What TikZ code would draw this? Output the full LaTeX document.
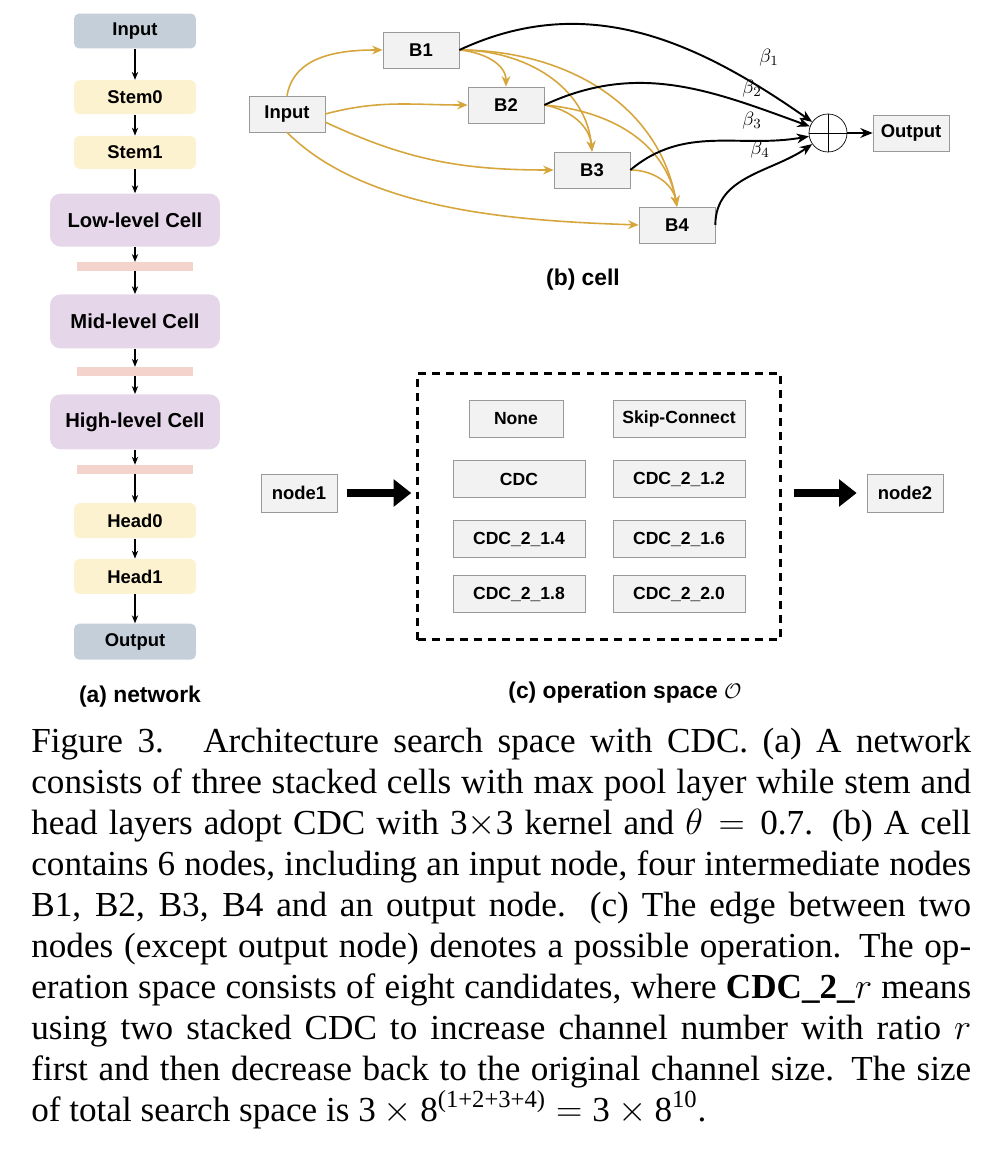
\documentclass[tikz,border=0pt]{standalone}
\usepackage{amsmath}
\usepackage{fontspec}
\setmainfont{Liberation Serif}
\setsansfont{Liberation Sans}
\usetikzlibrary{arrows.meta, positioning, fit}
\definecolor{ioblue}{RGB}{196, 207, 217}
\definecolor{stemyellow}{RGB}{253, 242, 208}
\definecolor{celllilac}{RGB}{229, 215, 233}
\definecolor{poolpink}{RGB}{243, 211, 204}
\definecolor{boxgray}{RGB}{242, 242, 242}
\definecolor{edgegold}{RGB}{214, 165, 60}

\begin{document}
\begin{tikzpicture}[
        x=0.02cm, y=0.02cm,
        node distance=0.5cm,
        % Styles
        netlayer/.style={
            rectangle,
            rounded corners=3pt,
            minimum width=2.44cm,
            minimum height=0.7cm,
            inner sep=0pt,
            font=\sffamily\bfseries\fontsize{10.5}{12}\selectfont
        },
        iolayer/.style={netlayer, fill=ioblue},
        stemlayer/.style={netlayer, fill=stemyellow},
        celllayer/.style={netlayer, fill=celllilac, minimum width=3.4cm, minimum height=1.08cm, rounded corners=6pt, font=\sffamily\bfseries\fontsize{11.5}{13}\selectfont},
        pool/.style={rectangle, fill=poolpink, minimum width=2.34cm, minimum height=0.17cm, inner sep=0pt},
        block/.style={
            rectangle,
            draw=black!40,
            fill=boxgray,
            minimum width=1.52cm,
            minimum height=0.72cm,
            inner sep=0pt,
            font=\sffamily\bfseries\fontsize{10.5}{12}\selectfont
        },
        opbox/.style={block, minimum width=2.64cm, minimum height=0.74cm, font=\sffamily\bfseries\fontsize{10}{12}\selectfont},
        sumop/.style={circle, draw, thin, minimum size=0.76cm, inner sep=0pt},
        opframe/.style={draw, line width=1.6pt, dash pattern=on 4.5pt off 3.5pt, inner xsep=0.7cm, inner ysep=0.54cm},
        subcap/.style={font=\sffamily\bfseries\fontsize{13}{15}\selectfont},
        betalab/.style={font=\fontsize{11}{12}\selectfont, inner sep=1pt},
        thinconn/.style={-{Stealth[length=4.5pt, width=3.6pt]}, line width=0.6pt},
        goldconn/.style={-{Stealth[length=6pt, width=5pt]}, draw=edgegold, line width=0.9pt},
        blackconn/.style={-{Stealth[length=7pt, width=5.6pt]}, line width=1.1pt},
        bigconn/.style={-{Triangle[length=10pt, width=15pt]}, line width=4.5pt}
    ]

    \useasboundingbox (0,0) rectangle (998,-1166);

    % ==============================
    % (a) NETWORK
    % ==============================
    \node[iolayer] (input) at (135,-31) {Input};
    \node[stemlayer, below=0.62cm of input, minimum height=0.68cm] (stem0) {Stem0};
    \node[stemlayer, below=0.42cm of stem0, minimum height=0.66cm] (stem1) {Stem1};
    \node[celllayer, below=0.48cm of stem1, minimum height=1.06cm] (lowcell) {Low-level Cell};
    \node[pool, below=0.3cm of lowcell] (pool1) {};
    \node[celllayer, below=0.46cm of pool1] (midcell) {Mid-level Cell};
    \node[pool, below=0.36cm of midcell] (pool2) {};
    \node[celllayer, below=0.36cm of pool2, minimum height=1.1cm] (highcell) {High-level Cell};
    \node[pool, below=0.3cm of highcell] (pool3) {};
    \node[stemlayer, below=0.58cm of pool3] (head0) {Head0};
    \node[stemlayer, below=0.4cm of head0] (head1) {Head1};
    \node[iolayer, below=0.58cm of head1, minimum height=0.72cm] (output) {Output};

    \draw[thinconn] (input) -- (stem0);
    \draw[thinconn] (stem0) -- (stem1);
    \draw[thinconn] (stem1) -- (lowcell);
    \draw[thinconn] (lowcell) -- (pool1);
    \draw[thinconn] (pool1) -- (midcell);
    \draw[thinconn] (midcell) -- (pool2);
    \draw[thinconn] (pool2) -- (highcell);
    \draw[thinconn] (highcell) -- (pool3);
    \draw[thinconn] (pool3) -- (head0);
    \draw[thinconn] (head0) -- (head1);
    \draw[thinconn] (head1) -- (output);

    \node[subcap] (capa) at (140,-697) {(a) network};

    % ==============================
    % (b) CELL
    % ==============================
    \node[block] (cin) at (287,-114) {Input};
    \node[block] (b1) at (421,-50) {B1};
    \node[block] (b2) at (506,-105) {B2};
    \node[block] (b3) at (592,-170) {B3};
    \node[block] (b4) at (677,-225) {B4};
    \node[sumop] (sum) at (828,-133) {};
    \node[block] (cout) at (911,-133) {Output};
    \draw (sum.north) -- (sum.south);
    \draw (sum.west) -- (sum.east);

    \draw[goldconn] (cin.north) to[out=80, in=180] (b1.west);
    \draw[goldconn] (cin.east) to[out=15, in=180] (b2.west);
    \draw[goldconn] (cin.-12) to[out=-25, in=180] (b3.west);
    \draw[goldconn] (cin.south) to[out=-45, in=178, looseness=0.8] (b4.west);
    \draw[goldconn] (b1.east) to[out=-5, in=90] (b2.north);
    \draw[goldconn] (b1.east) to[out=0, in=95] (b3.north);
    \draw[goldconn] (b1.east) to[out=0, in=100] (b4.north);
    \draw[goldconn] (b2.east) to[out=-10, in=95] (b3.north);
    \draw[goldconn] (b2.east) to[out=-5, in=100] (b4.north);
    \draw[goldconn] (b3.east) to[out=0, in=100] (b4.north);

    \draw[blackconn] (b1.east) to[out=25, in=145] (sum);
    \draw[blackconn] (b2.east) to[out=25, in=160] (sum);
    \draw[blackconn] (b3.east) to[out=40, in=190] (sum);
    \draw[blackconn] (b4.east) to[out=90, in=215] (sum);
    \draw[blackconn] (sum) -- (cout);

    \node[betalab] (beta1) at (769,-58) {$\beta_1$};
    \node[betalab] (beta2) at (752,-89) {$\beta_2$};
    \node[betalab] (beta3) at (752,-121) {$\beta_3$};
    \node[betalab] (beta4) at (760,-150) {$\beta_4$};

    \node[subcap] (capb) at (583,-280) {(b) cell};

    % ==============================
    % (c) OPERATION SPACE
    % ==============================
    \node[opbox, minimum width=1.88cm] (none) at (516,-419) {None};
    \node[opbox] (skip) at (679,-419) {Skip-Connect};
    \node[opbox] (cdc) at (519,-479) {CDC};
    \node[opbox] (cdc12) at (679,-479) {CDC\_2\_1.2};
    \node[opbox] (cdc14) at (519,-539) {CDC\_2\_1.4};
    \node[opbox] (cdc16) at (679,-539) {CDC\_2\_1.6};
    \node[opbox] (cdc18) at (519,-594) {CDC\_2\_1.8};
    \node[opbox] (cdc20) at (679,-594) {CDC\_2\_2.0};
    \node[opframe, fit=(none)(skip)(cdc)(cdc18)(cdc20)] (opspace) {};

    \node[block, minimum height=0.76cm] (node1) at (299,-493) {node1};
    \node[block, minimum height=0.76cm] (node2) at (905,-493) {node2};

    \draw[bigconn, shorten <=0.2cm, shorten >=0.1cm] (node1.east) -- (node1.east -| opspace.west);
    \draw[bigconn, shorten <=0.24cm, shorten >=0.2cm] (node2.west -| opspace.east) -- (node2.west);

    \node[subcap] (capc) at (625,-693) {(c) operation space $\mathcal{O}$};

    % ==============================
    % CAPTION
    % ==============================
    \node[anchor=north west, text width=18.8cm, align=justify, inner sep=0pt, font=\fontsize{20}{23.3}\selectfont] (figcap) at (31,-728) {\tolerance=9999\emergencystretch=2em
        Figure 3.\hspace{0.3em} Architecture search space with CDC. (a) A network\linebreak
        consists of three stacked cells with max pool layer while stem and\linebreak
        head layers adopt CDC with 3$\times$3 kernel and $\theta = \textrm{0.7}$. (b) A cell\linebreak
        contains 6 nodes, including an input node, four intermediate nodes\linebreak
        B1, B2, B3, B4 and an output node. (c) The edge between two\linebreak
        nodes (except output node) denotes a possible operation. The op-\linebreak
        eration space consists of eight candidates, where \textbf{CDC\_2\_}$r$ means\linebreak
        using two stacked CDC to increase channel number with ratio $r$\linebreak
        first and then decrease back to the original channel size. The size\linebreak
        of total search space is $\textrm{3} \times \textrm{8}^{\textrm{(1+2+3+4)}} = \textrm{3} \times \textrm{8}^{\textrm{10}}$.};

\end{tikzpicture}
\end{document}
